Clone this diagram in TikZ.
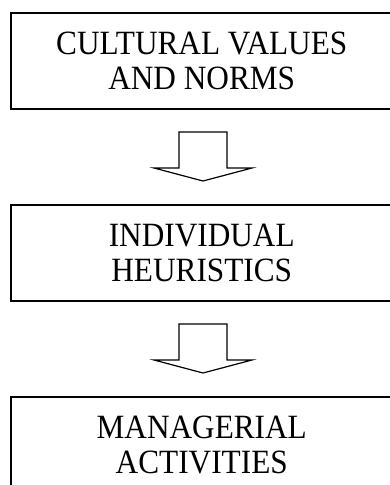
\documentclass[tikz,border=0pt]{standalone}
\usepackage{fontspec}
\setmainfont{Liberation Serif}[FakeStretch=0.92]
\begin{document}
\begin{tikzpicture}[x=1pt,y=-1pt,
  box/.style={draw, line width=1.5pt, anchor=north west, minimum width=382pt, minimum height=96pt, inner sep=0pt, align=center, font=\fontsize{34}{35.5}\selectfont},
  blockarrow/.pic={\draw[line width=1.2pt, line join=miter] (-24,0) -- (24,0) -- (24,36) -- (49,36) -- (0,49) -- (-49,36) -- (-24,36) -- cycle;}]
\useasboundingbox (0,0) rectangle (390,485);
\begin{scope}
\clip (0,0) rectangle (390,485);
\node[box] (b1) at (10,12) {CULTURAL VALUES\\AND NORMS};
\node[box] (b2) at (10,204) {INDIVIDUAL\\HEURISTICS};
\node[box] (b3) at (10,396) {MANAGERIAL\\ACTIVITIES};
\end{scope}
\coordinate (a1) at (203,132);
\coordinate (a2) at (203,324);
\pic at (a1) {blockarrow};
\pic at (a2) {blockarrow};
\end{tikzpicture}
\end{document}
